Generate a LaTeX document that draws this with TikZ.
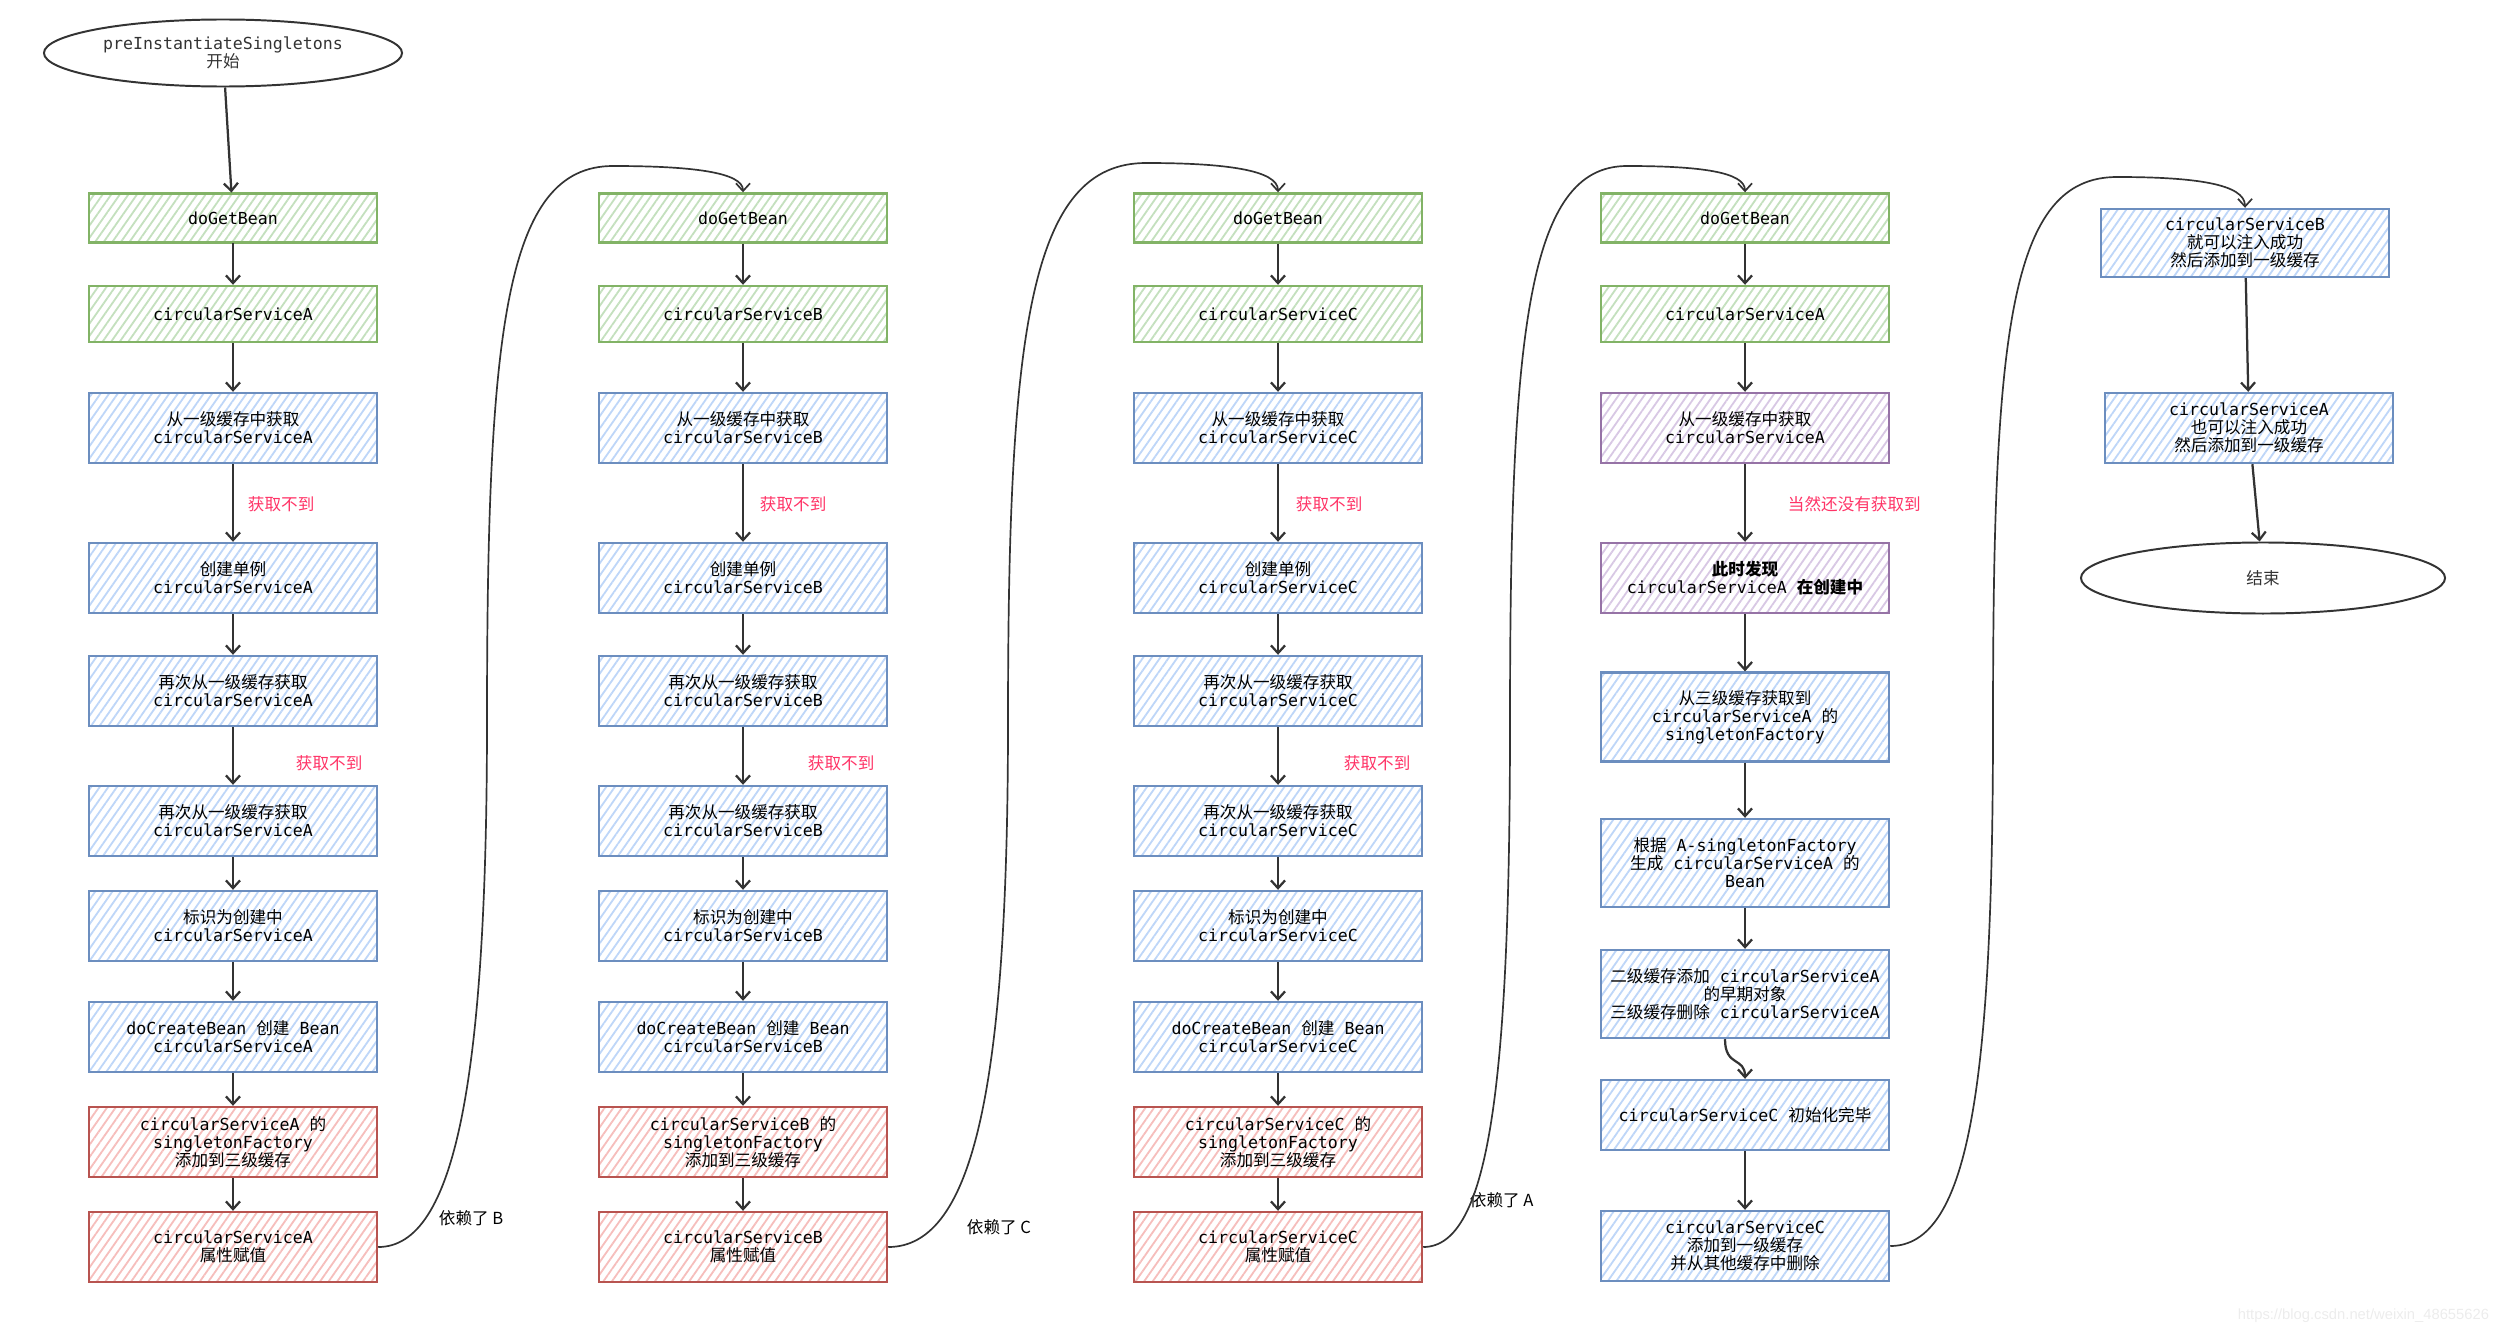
\documentclass[tikz,border=0pt]{standalone}
\usepackage{fontspec}
\setmainfont{DejaVu Sans Mono}
\newfontfamily\cjk{Noto Sans CJK SC}
\newfontfamily\urlfont{Liberation Sans}
\usetikzlibrary{shapes.geometric,arrows.meta,patterns.meta}
\newcommand{\zh}[1]{{\cjk #1}}
\definecolor{leaf}{RGB}{130, 179, 102}
\definecolor{leaflight}{RGB}{196, 224, 190}
\definecolor{sky}{RGB}{108, 142, 191}
\definecolor{skylight}{RGB}{190, 214, 248}
\definecolor{brick}{RGB}{184, 84, 80}
\definecolor{bricklight}{RGB}{246, 190, 188}
\definecolor{plum}{RGB}{150, 115, 166}
\definecolor{plumlight}{RGB}{216, 200, 228}
\definecolor{ink}{RGB}{51, 51, 51}
\definecolor{alert}{RGB}{255, 51, 102}
\tikzset{
  box/.style={draw, line width=1.7pt, minimum width=7.2cm, minimum height=1.75cm,
              align=center, inner sep=2pt, text=black, font=\fontsize{11.8}{12.8}\selectfont},
  greenbox/.style={box, draw=leaf, pattern={Lines[angle=55,distance=5pt,line width=1.3pt]}, pattern color=leaflight},
  bluebox/.style={box, draw=sky, pattern={Lines[angle=55,distance=5pt,line width=1.3pt]}, pattern color=skylight},
  redbox/.style={box, draw=brick, pattern={Lines[angle=55,distance=5pt,line width=1.3pt]}, pattern color=bricklight},
  purplebox/.style={box, draw=plum, pattern={Lines[angle=55,distance=5pt,line width=1.3pt]}, pattern color=plumlight},
  terminal/.style={ellipse, draw=ink, line width=1.4pt, inner sep=0pt, align=center, text=ink,
                   font=\fontsize{11.8}{12.8}\selectfont},
  flow/.style={draw=ink, line width=1.6pt, -{Straight Barb[length=5.5pt,width=10pt]}},
  link/.style={draw=ink, line width=1.2pt, -{Straight Barb[length=5.5pt,width=10pt]}},
  miss/.style={anchor=west, text=alert, font=\cjk\fontsize{11.8}{12.8}\selectfont},
  dep/.style={anchor=west, text=black, font=\cjk\fontsize{11.8}{12.8}\selectfont}
}
\begin{document}
\begin{tikzpicture}[x=0.025cm, y=-0.025cm]
  \useasboundingbox (0,0) rectangle (2502,1334);
  % start
  \node[terminal, minimum width=8.95cm, minimum height=1.675cm] (start) at (223,53) {preInstantiateSingletons\\\zh{开始}};
  % column A
  \node[greenbox, minimum height=1.225cm] (a1)  at (233, 218) {doGetBean};
  \node[greenbox, minimum height=1.4cm]   (a2)  at (233, 314) {circularServiceA};
  \node[bluebox]                          (a3)  at (233, 428) {\zh{从一级缓存中获取}\\circularServiceA};
  \node[bluebox]                          (a4)  at (233, 578) {\zh{创建单例}\\circularServiceA};
  \node[bluebox]                          (a5)  at (233, 691) {\zh{再次从一级缓存获取}\\circularServiceA};
  \node[bluebox]                          (a6)  at (233, 821) {\zh{再次从一级缓存获取}\\circularServiceA};
  \node[bluebox]                          (a7)  at (233, 926) {\zh{标识为创建中}\\circularServiceA};
  \node[bluebox]                          (a8)  at (233,1037) {doCreateBean \zh{创建} Bean\\circularServiceA};
  \node[redbox]                           (a9)  at (233,1142) {circularServiceA \zh{的}\\singletonFactory\\\zh{添加到三级缓存}};
  \node[redbox]                           (a10) at (233,1247) {circularServiceA\\\zh{属性赋值}};
  % column B
  \node[greenbox, minimum height=1.225cm] (b1)  at (743, 218) {doGetBean};
  \node[greenbox, minimum height=1.4cm]   (b2)  at (743, 314) {circularServiceB};
  \node[bluebox]                          (b3)  at (743, 428) {\zh{从一级缓存中获取}\\circularServiceB};
  \node[bluebox]                          (b4)  at (743, 578) {\zh{创建单例}\\circularServiceB};
  \node[bluebox]                          (b5)  at (743, 691) {\zh{再次从一级缓存获取}\\circularServiceB};
  \node[bluebox]                          (b6)  at (743, 821) {\zh{再次从一级缓存获取}\\circularServiceB};
  \node[bluebox]                          (b7)  at (743, 926) {\zh{标识为创建中}\\circularServiceB};
  \node[bluebox]                          (b8)  at (743,1037) {doCreateBean \zh{创建} Bean\\circularServiceB};
  \node[redbox]                           (b9)  at (743,1142) {circularServiceB \zh{的}\\singletonFactory\\\zh{添加到三级缓存}};
  \node[redbox]                           (b10) at (743,1247) {circularServiceB\\\zh{属性赋值}};
  % column C
  \node[greenbox, minimum height=1.225cm] (c1)  at (1278, 218) {doGetBean};
  \node[greenbox, minimum height=1.4cm]   (c2)  at (1278, 314) {circularServiceC};
  \node[bluebox]                          (c3)  at (1278, 428) {\zh{从一级缓存中获取}\\circularServiceC};
  \node[bluebox]                          (c4)  at (1278, 578) {\zh{创建单例}\\circularServiceC};
  \node[bluebox]                          (c5)  at (1278, 691) {\zh{再次从一级缓存获取}\\circularServiceC};
  \node[bluebox]                          (c6)  at (1278, 821) {\zh{再次从一级缓存获取}\\circularServiceC};
  \node[bluebox]                          (c7)  at (1278, 926) {\zh{标识为创建中}\\circularServiceC};
  \node[bluebox]                          (c8)  at (1278,1037) {doCreateBean \zh{创建} Bean\\circularServiceC};
  \node[redbox]                           (c9)  at (1278,1142) {circularServiceC \zh{的}\\singletonFactory\\\zh{添加到三级缓存}};
  \node[redbox]                           (c10) at (1278,1247) {circularServiceC\\\zh{属性赋值}};
  % column D
  \node[greenbox, minimum height=1.225cm] (d1)  at (1745, 218) {doGetBean};
  \node[greenbox, minimum height=1.4cm]   (d2)  at (1745, 314) {circularServiceA};
  \node[purplebox]                        (d3)  at (1745, 428) {\zh{从一级缓存中获取}\\circularServiceA};
  \node[purplebox]                        (d4)  at (1745, 578) {\zh{\bfseries 此时发现}\\circularServiceA \zh{\bfseries 在创建中}};
  \node[bluebox, minimum height=2.22cm]   (d5)  at (1745, 717) {\zh{从三级缓存获取到}\\circularServiceA \zh{的}\\singletonFactory};
  \node[bluebox, minimum height=2.2cm]    (d6)  at (1745, 863) {\zh{根据} A-singletonFactory\\\zh{生成} circularServiceA \zh{的}\\Bean};
  \node[bluebox, minimum height=2.2cm]    (d7)  at (1745, 994) {\zh{二级缓存添加} circularServiceA\\\zh{的早期对象}\\\zh{三级缓存删除} circularServiceA};
  \node[bluebox]                          (d8)  at (1745,1115) {circularServiceC \zh{初始化完毕}};
  \node[bluebox]                          (d9)  at (1745,1246) {circularServiceC\\\zh{添加到一级缓存}\\\zh{并从其他缓存中删除}};
  % column E
  \node[bluebox, minimum height=1.7cm]    (e1)  at (2245, 243) {circularServiceB\\\zh{就可以注入成功}\\\zh{然后添加到一级缓存}};
  \node[bluebox]                          (e2)  at (2249, 428) {circularServiceA\\\zh{也可以注入成功}\\\zh{然后添加到一级缓存}};
  \node[terminal, minimum width=9.1cm, minimum height=1.775cm] (stop) at (2263,578) {\zh{结束}};
  % red notes
  \node[miss] (ma1) at (243, 504) {获取不到};
  \node[miss] (ma2) at (291, 763) {获取不到};
  \node[miss] (mb1) at (755, 504) {获取不到};
  \node[miss] (mb2) at (803, 763) {获取不到};
  \node[miss] (mc1) at (1291, 504) {获取不到};
  \node[miss] (mc2) at (1339, 763) {获取不到};
  \node[miss] (md1) at (1783, 504) {当然还没有获取到};
  % dependency notes
  \node[dep] (depb) at (434,1218) {依赖了 B};
  \node[dep] (depc) at (962,1227) {依赖了 C};
  \node[dep] (depa) at (1465,1200) {依赖了 A};
  % arrows inside the columns
  \draw[flow] (start) -- (a1);
  \draw[flow] (a1) -- (a2);  \draw[flow] (a2) -- (a3);  \draw[flow] (a3) -- (a4);
  \draw[flow] (a4) -- (a5);  \draw[flow] (a5) -- (a6);  \draw[flow] (a6) -- (a7);
  \draw[flow] (a7) -- (a8);  \draw[flow] (a8) -- (a9);  \draw[flow] (a9) -- (a10);
  \draw[flow] (b1) -- (b2);  \draw[flow] (b2) -- (b3);  \draw[flow] (b3) -- (b4);
  \draw[flow] (b4) -- (b5);  \draw[flow] (b5) -- (b6);  \draw[flow] (b6) -- (b7);
  \draw[flow] (b7) -- (b8);  \draw[flow] (b8) -- (b9);  \draw[flow] (b9) -- (b10);
  \draw[flow] (c1) -- (c2);  \draw[flow] (c2) -- (c3);  \draw[flow] (c3) -- (c4);
  \draw[flow] (c4) -- (c5);  \draw[flow] (c5) -- (c6);  \draw[flow] (c6) -- (c7);
  \draw[flow] (c7) -- (c8);  \draw[flow] (c8) -- (c9);  \draw[flow] (c9) -- (c10);
  \draw[flow] (d1) -- (d2);  \draw[flow] (d2) -- (d3);  \draw[flow] (d3) -- (d4);
  \draw[flow] (d4) -- (d5);  \draw[flow] (d5) -- (d6);  \draw[flow] (d6) -- (d7);
  \draw[flow] ([xshift=-0.5cm]d7.south) .. controls +(0,28) and +(0,-22) .. (d8.north);
  \draw[flow] (d8) -- (d9);
  \draw[flow] (e1) -- (e2);  \draw[flow] (e2) -- (stop);
  % jumps between the columns
  \draw[link] (a10.east) .. controls (455,1247) and (487,1080) .. (487,720)
              .. controls (487,330) and (505,166) .. (613,166)
              .. controls (690,166) and (743,172) .. (b1.north);
  \draw[link] (b10.east) .. controls (975,1247) and (1008,1080) .. (1008,720)
              .. controls (1008,330) and (1030,163) .. (1146,163)
              .. controls (1225,163) and (1278,170) .. (c1.north);
  \draw[link] (c10.east) .. controls (1490,1247) and (1510,1080) .. (1510,720)
              .. controls (1510,330) and (1528,166) .. (1627,166)
              .. controls (1700,166) and (1745,172) .. (d1.north);
  \draw[link] (d9.east) .. controls (1970,1246) and (1993,1080) .. (1993,720)
              .. controls (1993,330) and (2010,177) .. (2117,177)
              .. controls (2195,177) and (2245,184) .. (e1.north);
  % watermark
  \node[anchor=east, text=gray!15, font=\urlfont\fontsize{10.5}{12}\selectfont] (mark) at (2494,1316) {https://blog.csdn.net/weixin\_48655626};
\end{tikzpicture}
\end{document}
